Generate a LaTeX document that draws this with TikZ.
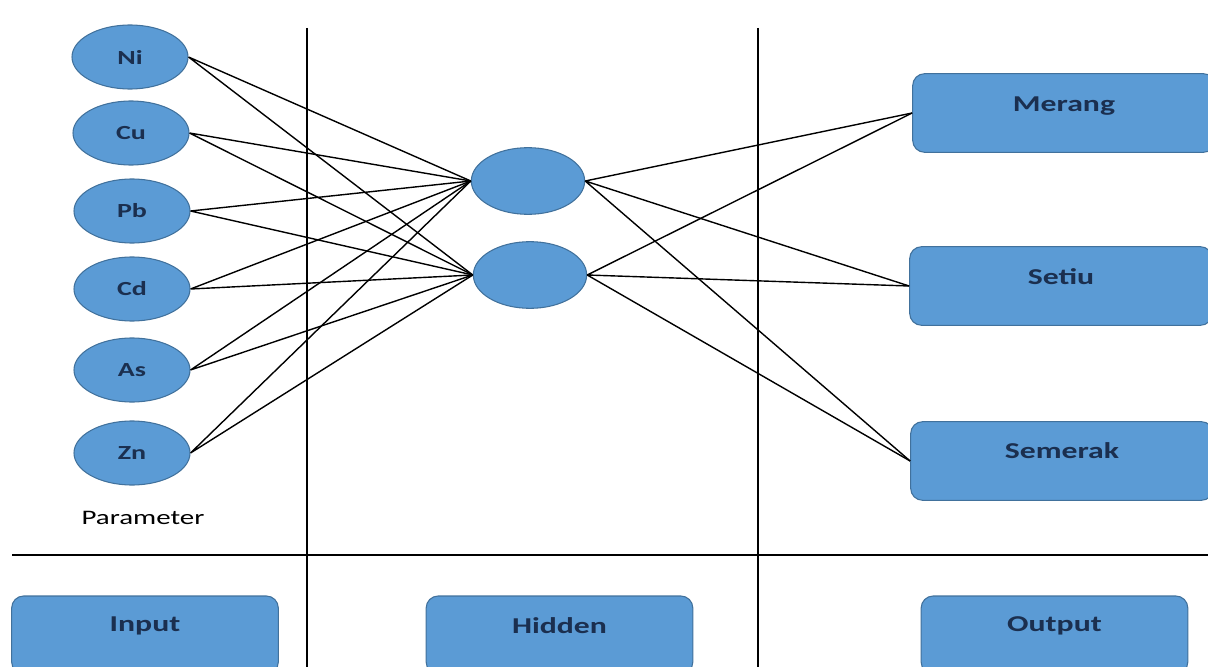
\documentclass[tikz,border=0pt]{standalone}
\usepackage{fontspec}
\setmainfont{Carlito}
\usepackage{tikz}
\usetikzlibrary{positioning, shapes.geometric}
\definecolor{nodeblue}{HTML}{5B9BD5}
\definecolor{nodeedge}{HTML}{41719C}
\definecolor{labelnavy}{HTML}{1B2F4F}
\newcommand{\wide}[1]{\scalebox{1.4}[1]{#1}}

\begin{document}
\begin{tikzpicture}[
  x=0.75pt, y=-0.75pt,
  every node/.style={font=\fontsize{15}{18}\selectfont\bfseries, text=labelnavy, inner sep=0pt},
  neuron/.style={ellipse, draw=nodeedge, fill=nodeblue, line width=0.8pt,
                 minimum width=87pt, minimum height=48pt},
  hid/.style={neuron, minimum width=85pt, minimum height=50pt},
  target/.style={draw=nodeedge, fill=nodeblue, line width=0.8pt, rounded corners=9pt,
                 minimum width=227pt, minimum height=59pt},
  layer/.style={target, minimum width=200pt, minimum height=58.5pt},
  big/.style={font=\fontsize{17}{20}\selectfont\bfseries, text=labelnavy},
  wire/.style={line width=1.05pt},
  rule/.style={line width=1.4pt},
]
  \useasboundingbox (0,0) rectangle (1208,667);
  \clip (0,0) rectangle (1208,667);

  % input layer
  \node[neuron] (ni) at (130,57)  {\wide{Ni}};
  \node[neuron] (cu) at (131,133) {\wide{Cu}};
  \node[neuron] (pb) at (132,211) {\wide{Pb}};
  \node[neuron] (cd) at (132,289) {\wide{Cd}};
  \node[neuron] (as) at (132,370) {\wide{As}};
  \node[neuron] (zn) at (132,453) {\wide{Zn}};
  \node[text=black, font=\fontsize{15.5}{18}\selectfont] (param) at (143,518) {\scalebox{1.4}[1]{Parameter}};

  % hidden layer
  \node[hid] (hA) at (528,181) {};
  \node[hid] (hB) at (530,275) {};

  % output layer
  \node[target, label={[big, yshift=5pt]center:\wide{Merang}}]  (merang)  at (1064,113) {};
  \node[target, label={[big, yshift=7pt]center:\wide{Setiu}}]   (setiu)   at (1061,286) {};
  \node[target, label={[big, yshift=8pt]center:\wide{Semerak}}] (semerak) at (1062,461) {};

  % layer captions
  \node[layer, label={[big, yshift=7pt]center:\wide{Input}}]  (inlbl)  at (145,635)   {};
  \node[layer, label={[big, yshift=7pt]center:\wide{Hidden}}] (hidlbl) at (559.5,635) {};
  \node[layer, label={[big, yshift=7pt]center:\wide{Output}}] (outlbl) at (1054.5,635) {};

  % separators
  \draw[rule] (307,28) -- (307,667);
  \draw[rule] (758,28) -- (758,667);
  \draw[rule] (12,555) -- (1208,555);

  % input -> hidden
  \draw[wire] (ni.east) -- (hA.west) (ni.east) -- (hB.west);
  \draw[wire] (cu.east) -- (hA.west) (cu.east) -- (hB.west);
  \draw[wire] (pb.east) -- (hA.west) (pb.east) -- (hB.west);
  \draw[wire] (cd.east) -- (hA.west) (cd.east) -- (hB.west);
  \draw[wire] (as.east) -- (hA.west) (as.east) -- (hB.west);
  \draw[wire] (zn.east) -- (hA.west) (zn.east) -- (hB.west);

  % hidden -> output
  \draw[wire] (hA.east) -- (merang.west) (hA.east) -- (setiu.west) (hA.east) -- (semerak.west);
  \draw[wire] (hB.east) -- (merang.west) (hB.east) -- (setiu.west) (hB.east) -- (semerak.west);
\end{tikzpicture}
\end{document}
